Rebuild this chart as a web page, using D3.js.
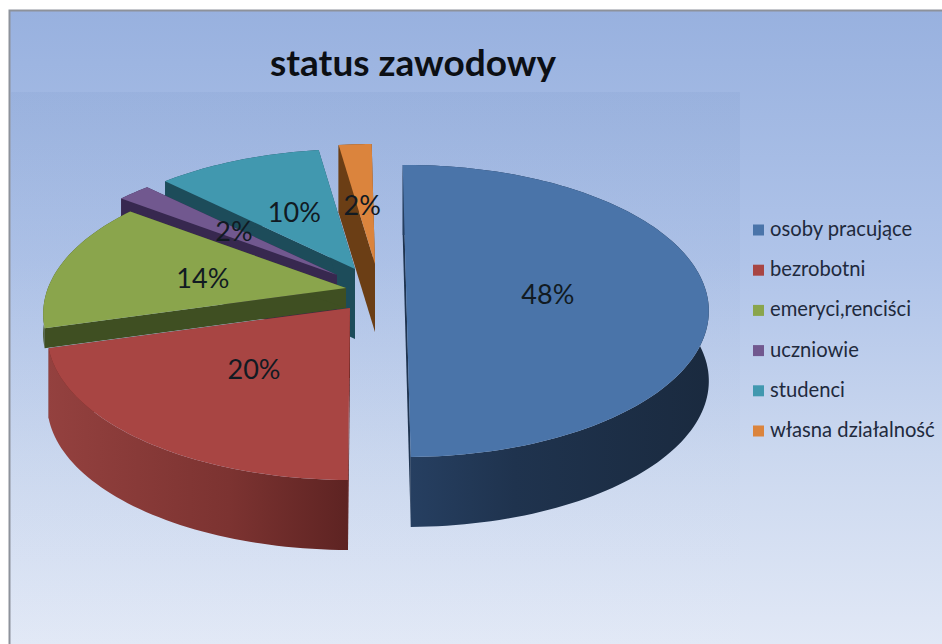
<!DOCTYPE html>
<html><head><meta charset="utf-8">
<script src="https://cdn.jsdelivr.net/npm/d3@7/dist/d3.min.js"></script>
<style>html,body{margin:0;padding:0;background:#fff}svg{display:block}text{font-family:Lato,"Open Sans",sans-serif}</style>
</head><body><div id="chart"></div>
<script>
const titleText = "status zawodowy";
const categories = ["osoby pracujące","bezrobotni","emeryci,renciści","uczniowie","studenci","własna działalność"];
const values = [48,20,14,2,10,2];
const topColors = ["#4a74a9","#a84543","#8aa54c","#71588f","#4198af","#db843d"];
const faceColors = ["#1f3450","#6a2826","#3f4f22","#37284f","#1d4c5a","#6b3e15"];
// layout: screen position of each exploded slice's apex, wall height, small placement nudges
const apexX = [406,350,346,337,355,375];
const apexY = [285,308,288,275,269,264];
const wallDepth = [70,70,20,70,70,68];
const startNudgeDeg = [0,1.07,0,0,0,0];
const labelDx = [-7,0,1,4,2,-2];
const labelDy = [10,0,3,-1,1,6];

const W=942,H=644;
const A=298,B=141.4,persp=0.178;
const svg=d3.select("#chart").append("svg").attr("width",W).attr("height",H);
const defs=svg.append("defs");
function grad(id,vertical,stops,x1,x2){
  const g=defs.append("linearGradient").attr("id",id).attr("gradientUnits","userSpaceOnUse");
  if(vertical) g.attr("x1",0).attr("x2",0).attr("y1",x1).attr("y2",x2);
  else g.attr("x1",x1).attr("x2",x2).attr("y1",0).attr("y2",0);
  stops.forEach(s=>g.append("stop").attr("offset",s[0]).attr("stop-color",s[1]).attr("stop-opacity",s[2]===undefined?1:s[2]));
}
grad("bg",true,[[0,"#98b1df"],[0.4,"#b0c4e9"],[0.7,"#cbd8ef"],[1,"#e1e8f6"]],10,644);
grad("plot",true,[[0,"#5f7fb5",0.10],[0.6,"#8fa5cc",0.04],[1,"#ffffff",0.03]],92,644);
grad("wall0",false,[[0,"#263f61"],[0.35,"#1f334e"],[1,"#1a2a3f"]],410,709);
grad("wall1",false,[[0,"#94413f"],[0.6,"#7c3331"],[1,"#5d2322"]],47,350);

svg.append("rect").attr("x",9).attr("y",10).attr("width",W-9).attr("height",H-10).attr("fill","url(#bg)");
svg.append("path").attr("d",d3.line()([[9.5,H],[9.5,10.5],[W,10.5]])).attr("fill","none").attr("stroke","#8d929b").attr("stroke-width",2);
svg.append("rect").attr("x",11).attr("y",92).attr("width",729).attr("height",H-92).attr("fill","url(#plot)");

const rad=Math.PI/180;
const pie=d3.pie().sort(null).startAngle(-0.75*rad).endAngle(2*Math.PI-0.75*rad);
const arcs=pie(values);
const line=d3.line();
function proj(i,a,r){
  const u=r*Math.sin(a), v=-r*Math.cos(a), p=1/(1-persp*v);
  return [apexX[i]+A*u*p, apexY[i]+B*v*p];
}
function outer(i,d){
  const a0=d.startAngle+startNudgeDeg[i]*rad;
  const n=Math.max(6,Math.round((d.endAngle-a0)*40));
  return d3.range(n+1).map(k=>proj(i,a0+(d.endAngle-a0)*k/n,1));
}
const order=[5,4,3,2,1,0];
const g=svg.append("g");
order.forEach(i=>{
  const d=arcs[i], arc=outer(i,d), apex=[apexX[i],apexY[i]];
  const down=p=>[p[0],p[1]+wallDepth[i]];
  const first=arc[0], last=arc[arc.length-1];
  const wall=i<2?`url(#wall${i})`:faceColors[i];
  [first,last].forEach(e=>{
    g.append("path").attr("d",line([apex,e,down(e),down(apex)])+"Z").attr("fill",faceColors[i]);
  });
  g.append("path").attr("d",line(arc.concat(arc.map(down).reverse()))+"Z").attr("fill",wall);
  g.append("path").attr("d",line([apex].concat(arc))+"Z").attr("fill",topColors[i]);
});
arcs.forEach((d,i)=>{
  const p=proj(i,(d.startAngle+d.endAngle)/2,0.5);
  g.append("text").attr("x",p[0]+labelDx[i]).attr("y",p[1]+10+labelDy[i]).attr("text-anchor","middle")
    .attr("font-size",27).attr("fill","#111a22").text(values[i]+"%");
});
svg.append("text").attr("x",413).attr("y",76).attr("text-anchor","middle")
  .attr("font-size",37).attr("font-weight",700).attr("fill","#0c0f14").text(titleText);
const legendY=d3.scalePoint().domain(categories).range([230,431]);
const lg=svg.append("g").selectAll("g").data(categories).join("g");
lg.append("rect").attr("x",753).attr("y",c=>legendY(c)-5.5).attr("width",11).attr("height",11).attr("fill",(c,i)=>topColors[i]);
lg.append("text").attr("x",770).attr("y",c=>legendY(c)+6).attr("font-size",20.2).attr("fill","#1f2a3d").text(c=>c);
</script></body></html>
